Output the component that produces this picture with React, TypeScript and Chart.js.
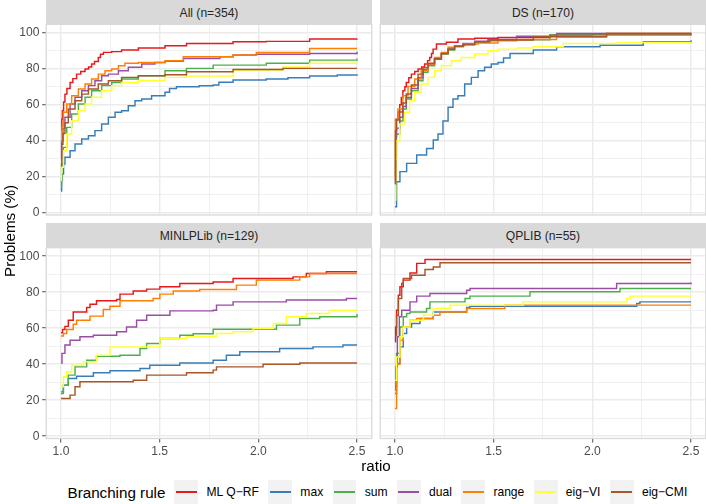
import React, { useEffect, useRef } from "react";
import { Chart, registerables } from "chart.js";

Chart.register(...registerables);

type Pt = [number, number];

const FONT = "'Liberation Sans', Arial, Helvetica, sans-serif";

const RULES = ["ML Q−RF", "max", "sum", "dual", "range", "eig−VI", "eig−CMI"];
const COLORS = ["#E41A1C", "#377EB8", "#4DAF4A", "#984EA3", "#FF7F00", "#FFFF33", "#A65628"];
const PANEL_TITLES = ["All (n=354)", "DS (n=170)", "MINLPLib (n=129)", "QPLIB (n=55)"];
const X_TICKS = [1.0, 1.5, 2.0, 2.5];
const X_MINOR = [1.25, 1.75, 2.25];
const Y_TICKS = [0, 20, 40, 60, 80, 100];
const Y_MINOR = [10, 30, 50, 70, 90];
const X_TITLE = "ratio";
const Y_TITLE = "Problems (%)";
const LEGEND_TITLE = "Branching rule";

// ---- All (n=354)
const ALL_MLQRF: Pt[] = [[1.0,46],[1.004,52],[1.007,56.7],[1.013,61.5],[1.02,65.9],[1.03,69],[1.046,72.4],[1.06,74.5],[1.079,77],[1.1,78.5],[1.122,79.8],[1.14,81],[1.155,82.6],[1.17,84],[1.189,86.3],[1.2,88],[1.215,89.1],[1.257,89.5],[1.307,90.4],[1.392,91.5],[1.527,92.8],[1.636,94],[1.872,95],[2.04,95.2],[2.26,96.5],[2.5,96.7]];
const ALL_MAX: Pt[] = [[1.0,12],[1.003,18],[1.007,21.5],[1.013,27],[1.02,30.8],[1.046,34.4],[1.071,38.2],[1.105,40.9],[1.139,42.8],[1.172,45.6],[1.206,49.3],[1.24,53],[1.274,55.8],[1.307,56.7],[1.341,59.4],[1.375,62.2],[1.409,63.2],[1.459,65],[1.527,66.9],[1.55,69],[1.585,70],[1.7,70.5],[1.771,71],[1.8,72.5],[1.872,73.7],[2.04,74.3],[2.15,75],[2.26,76],[2.4,76.5],[2.5,77]];
const ALL_SUM: Pt[] = [[1.0,15],[1.003,27],[1.012,36.3],[1.029,47.4],[1.054,54.8],[1.088,60.4],[1.122,64.1],[1.155,67.8],[1.206,70.6],[1.257,72.4],[1.307,74.3],[1.392,76.1],[1.527,78.9],[1.636,80.2],[1.771,82],[2.04,83],[2.26,84.8],[2.5,85.7]];
const ALL_DUAL: Pt[] = [[1.0,30],[1.003,40],[1.01,47],[1.02,53],[1.046,60.4],[1.071,64.1],[1.105,67.8],[1.139,70.6],[1.172,73.3],[1.206,76.1],[1.24,77],[1.291,78.9],[1.341,80.8],[1.409,82.6],[1.476,83.5],[1.527,84.1],[1.62,85.7],[1.805,86.7],[1.872,87.6],[1.99,88],[2.26,88.5],[2.5,89.4]];
const ALL_RANGE: Pt[] = [[1.0,40],[1.005,48],[1.012,55.8],[1.029,60.4],[1.054,65],[1.088,68.7],[1.122,71.5],[1.155,74.3],[1.189,77],[1.223,78.9],[1.257,79.8],[1.291,81.7],[1.324,83],[1.392,83.5],[1.527,84.4],[1.62,86.7],[1.872,87.6],[1.99,89],[2.26,91.3],[2.5,91.3]];
const ALL_EIGVI: Pt[] = [[1.0,18],[1.003,25.2],[1.012,34.4],[1.029,43.7],[1.054,51.1],[1.088,56.7],[1.122,60.4],[1.155,64.1],[1.206,67.8],[1.257,70.6],[1.307,72.4],[1.392,73.3],[1.527,75.2],[1.636,76],[1.872,79.3],[2.125,81],[2.26,83],[2.5,83.3]];
const ALL_EIGCMI: Pt[] = [[1.0,26],[1.004,38],[1.01,44],[1.02,50],[1.037,57.6],[1.071,62.2],[1.105,65.9],[1.139,68.7],[1.189,71.5],[1.24,73.3],[1.307,75.2],[1.392,76.1],[1.527,76.7],[1.636,78.3],[1.872,79.6],[2.125,80.2],[2.5,80.2]];

// ---- DS (n=170)
const DS_MLQRF: Pt[] = [[1.0,16],[1.003,45],[1.007,52],[1.015,56],[1.024,60],[1.032,64],[1.04,67.8],[1.05,70],[1.057,72.4],[1.07,75],[1.083,77],[1.1,78.5],[1.117,79.8],[1.135,81],[1.15,82.6],[1.165,84.5],[1.176,86.3],[1.185,88.5],[1.193,90.9],[1.21,93.7],[1.26,94.7],[1.319,96.5],[1.404,97],[1.522,97.4],[1.785,98.7],[2.0,99.2],[2.5,99.6]];
const DS_MAX: Pt[] = [[1.0,3.3],[1.008,17.2],[1.025,22.8],[1.059,27.4],[1.11,32],[1.16,35.7],[1.194,40.4],[1.218,43.7],[1.243,51],[1.269,58.6],[1.294,63.2],[1.319,65],[1.353,71.5],[1.387,75.2],[1.421,78.9],[1.454,80.8],[1.488,82.6],[1.522,83.5],[1.55,86],[1.583,88.5],[1.701,90.4],[1.819,92.2],[2.039,93.1],[2.258,95],[2.5,95.9]];
const DS_SUM: Pt[] = [[1.0,16],[1.003,40],[1.007,43.7],[1.024,51],[1.04,57.6],[1.057,63.2],[1.083,67.8],[1.117,73.3],[1.142,78],[1.167,81.7],[1.201,85.4],[1.235,88.2],[1.269,90.4],[1.302,92.2],[1.345,93.3],[1.404,94.7],[1.471,95.6],[1.522,96.1],[1.785,98.7],[2.5,99.6]];
const DS_DUAL: Pt[] = [[1.0,18],[1.003,42],[1.008,47],[1.024,53],[1.04,59],[1.057,64],[1.083,69],[1.117,75],[1.142,79.5],[1.167,82.5],[1.2,85.4],[1.235,88.5],[1.269,91],[1.302,92.8],[1.345,94],[1.404,95.3],[1.471,96.3],[1.616,98.1],[1.819,99.6],[2.5,100]];
const DS_RANGE: Pt[] = [[1.0,20],[1.002,52],[1.015,57.6],[1.04,65],[1.066,70.2],[1.1,74.3],[1.133,78.9],[1.167,82.6],[1.201,86.3],[1.235,89.1],[1.269,91.9],[1.302,92.8],[1.353,93.7],[1.421,94.3],[1.522,95.6],[1.616,96.3],[1.819,97.8],[2.072,99.6],[2.5,100]];
const DS_EIGVI: Pt[] = [[1.0,7],[1.004,30],[1.01,40],[1.024,49.3],[1.049,55.8],[1.074,62.2],[1.1,66.9],[1.133,71.5],[1.167,75.2],[1.201,78.9],[1.235,81.7],[1.286,84.4],[1.336,86.3],[1.404,88.2],[1.471,90],[1.522,90.9],[1.62,91.5],[1.701,92.2],[1.853,94],[2.123,94.6],[2.5,94.6]];
const DS_EIGCMI: Pt[] = [[1.0,16],[1.003,46],[1.008,51.5],[1.024,56],[1.04,61],[1.057,66],[1.083,71],[1.117,77],[1.142,80.5],[1.167,83],[1.2,85.5],[1.235,88.5],[1.269,90.8],[1.302,92.5],[1.345,93.5],[1.404,95],[1.481,96],[1.701,97.8],[2.072,99.6],[2.5,99.6]];

// ---- MINLPLib (n=129)
const MIN_MLQRF: Pt[] = [[1.0,57.4],[1.008,59.3],[1.02,61],[1.037,64.4],[1.062,69],[1.13,71.5],[1.147,73.3],[1.18,75.2],[1.282,75.9],[1.299,78.9],[1.366,80.6],[1.434,81.7],[1.501,83],[1.602,84.8],[1.771,85.7],[1.872,87.6],[2.176,88.5],[2.243,90.4],[2.345,91.3],[2.5,91.3]];
const MIN_MAX: Pt[] = [[1.0,24.6],[1.012,28.3],[1.037,32],[1.079,33.3],[1.164,35.2],[1.248,36.3],[1.4,37.6],[1.45,39.4],[1.602,40.7],[1.771,42.2],[1.838,45],[1.906,46.9],[2.108,48.7],[2.277,49.6],[2.429,50.6],[2.5,50.6]];
const MIN_SUM: Pt[] = [[1.0,23.7],[1.012,28.3],[1.037,33.9],[1.071,38.5],[1.13,42.2],[1.18,44.4],[1.299,45],[1.4,48.7],[1.434,51.5],[1.501,54.3],[1.602,56.1],[1.67,56.9],[1.771,59.4],[1.99,59.4],[2.092,61.7],[2.21,65.4],[2.311,66.3],[2.5,67.8]];
const MIN_DUAL: Pt[] = [[1.0,40.7],[1.005,46],[1.02,50.6],[1.046,53.3],[1.096,55.2],[1.164,56.1],[1.282,58],[1.332,60.7],[1.383,64.4],[1.434,67.2],[1.552,69.6],[1.771,70],[1.788,72.8],[1.872,74.6],[2.142,75.6],[2.446,76.5],[2.5,76.5]];
const MIN_RANGE: Pt[] = [[1.0,55.6],[1.012,57],[1.029,59.3],[1.062,62.2],[1.079,64.4],[1.147,66.7],[1.214,70.4],[1.248,72.2],[1.299,75.2],[1.467,76.5],[1.501,78.9],[1.569,80.7],[1.703,81.5],[1.889,83.9],[1.99,86.7],[2.21,88.5],[2.26,90.4],[2.5,90.4]];
const MIN_EIGVI: Pt[] = [[1.0,27.4],[1.012,33],[1.029,35.7],[1.054,39.4],[1.113,41.3],[1.18,45],[1.248,49.6],[1.467,49.6],[1.501,54.3],[1.636,55.2],[1.788,57],[1.872,58],[1.973,59.8],[2.075,62.6],[2.142,66.3],[2.243,68.1],[2.361,70],[2.5,70]];
const MIN_EIGCMI: Pt[] = [[1.0,20.9],[1.046,22.8],[1.071,27.4],[1.096,30.2],[1.366,31.1],[1.434,33.9],[1.636,35.2],[1.771,36.7],[1.788,38.5],[2.024,40],[2.21,40.7],[2.5,40.7]];

// ---- QPLIB (n=55)
const QP_MLQRF: Pt[] = [[1.0,52.4],[1.003,60.7],[1.008,70],[1.017,78.3],[1.025,83],[1.042,86.7],[1.076,90.7],[1.11,96],[1.152,98.1],[2.5,98.1]];
const QP_MAX: Pt[] = [[1.0,23.7],[1.008,40.4],[1.025,49.6],[1.042,57],[1.059,60.7],[1.084,62.6],[1.127,65.4],[1.194,69],[1.363,71.5],[1.38,72.2],[2.225,73.7],[2.241,74.6],[2.5,74.6]];
const QP_SUM: Pt[] = [[1.0,27.4],[1.008,46],[1.025,60.7],[1.042,66.3],[1.059,68.1],[1.076,69],[1.16,70.9],[1.177,74.6],[1.355,76.5],[1.38,77.8],[1.684,80.2],[2.123,80.2],[2.14,82],[2.5,82]];
const QP_DUAL: Pt[] = [[1.0,25.6],[1.005,38.5],[1.012,55.2],[1.022,66.3],[1.034,70],[1.076,74.6],[1.11,77.8],[1.177,79.3],[1.363,81.1],[1.38,82],[1.87,82],[2.123,84.8],[2.5,85.4]];
const QP_RANGE: Pt[] = [[1.0,15.4],[1.008,40],[1.025,53.3],[1.042,60.7],[1.076,64.4],[1.11,65.4],[1.194,67.2],[1.228,69],[1.363,70.9],[1.557,72.8],[2.5,72.8]];
const QP_EIGVI: Pt[] = [[1.0,31],[1.008,44],[1.025,55.2],[1.042,60.7],[1.076,64.4],[1.144,67.2],[1.194,70.9],[1.279,72.8],[1.65,74.6],[2.174,76.5],[2.191,77.8],[2.5,77.8]];
const QP_EIGCMI: Pt[] = [[1.0,56],[1.008,67],[1.017,76.5],[1.034,84.8],[1.042,87.6],[1.084,89.4],[1.152,92.6],[1.194,94],[1.228,96.3],[2.5,96.3]];

const PANEL_SERIES: Pt[][][] = [
  [ALL_MLQRF, ALL_MAX, ALL_SUM, ALL_DUAL, ALL_RANGE, ALL_EIGVI, ALL_EIGCMI],
  [DS_MLQRF, DS_MAX, DS_SUM, DS_DUAL, DS_RANGE, DS_EIGVI, DS_EIGCMI],
  [MIN_MLQRF, MIN_MAX, MIN_SUM, MIN_DUAL, MIN_RANGE, MIN_EIGVI, MIN_EIGCMI],
  [QP_MLQRF, QP_MAX, QP_SUM, QP_DUAL, QP_RANGE, QP_EIGVI, QP_EIGCMI],
];

// ---- layout (pixels)
const X_MIN = 0.925, X_MAX = 2.575, Y_MIN = -1.3, Y_MAX = 104.7;
const Y_AXIS_W = 46.2;
const X_AXIS_H = 22;
type Box = { left: number; top: number; width: number; height: number };
type Area = { left: number; top: number; right: number; bottom: number };
const LAYOUT: { box: Box; area: Area; showX: boolean; showY: boolean }[] = [
  { box: { left: 0, top: 23, width: 374, height: 200 }, area: { left: 46.2, top: 24.3, right: 371.8, bottom: 215 }, showX: false, showY: true },
  { box: { left: 378, top: 23, width: 328, height: 200 }, area: { left: 380.2, top: 24.3, right: 705.8, bottom: 215 }, showX: false, showY: false },
  { box: { left: 0, top: 246, width: 374, height: 218 }, area: { left: 46.2, top: 247.7, right: 371.8, bottom: 438.5 }, showX: true, showY: true },
  { box: { left: 378, top: 246, width: 328, height: 218 }, area: { left: 380.2, top: 247.7, right: 705.8, bottom: 438.5 }, showX: true, showY: false },
];

const GRID = "#EBEBEB";
const BORDER = "#D9D9D9";
const TICK = "#333333";
const TICK_TEXT = "#4D4D4D";

const panelBorder = {
  id: "panelBorder",
  afterDatasetsDraw(chart: any) {
    const { ctx, chartArea } = chart;
    const { left, top, right, bottom } = chartArea;
    ctx.save();
    ctx.strokeStyle = BORDER;
    ctx.lineWidth = 1.3;
    ctx.strokeRect(left, top, right - left, bottom - top);
    ctx.restore();
  },
};

function Panel({ idx }: { idx: number }) {
  const ref = useRef<HTMLCanvasElement>(null);
  const { box, area, showX, showY } = LAYOUT[idx];
  useEffect(() => {
    if (!ref.current) return;
    const series = PANEL_SERIES[idx];
    const datasets = series.map((pts, i) => ({
      label: RULES[i],
      data: pts.map(([x, y]) => ({ x, y })),
      borderColor: COLORS[i],
      backgroundColor: COLORS[i],
      borderWidth: 1.45,
      pointRadius: 0,
      stepped: true,
      fill: false,
      order: RULES.length - i,
    }));
    const yW = showY ? Y_AXIS_W : 0;
    const xH = showX ? X_AXIS_H : 0;
    const padding = {
      left: area.left - box.left - yW,
      top: area.top - box.top,
      right: box.left + box.width - area.right,
      bottom: box.top + box.height - area.bottom - xH,
    };
    const xAll = [...X_TICKS, ...X_MINOR].sort((a, b) => a - b);
    const yAll = [...Y_TICKS, ...Y_MINOR].sort((a, b) => a - b);
    const isMajX = (v: any) => X_TICKS.includes(v);
    const isMajY = (v: any) => Y_TICKS.includes(v);
    const chart = new Chart(ref.current, {
      type: "line",
      data: { datasets: datasets as any },
      plugins: [panelBorder],
      options: {
        animation: false,
        responsive: true,
        maintainAspectRatio: false,
        layout: { padding },
        events: [],
        plugins: { legend: { display: false }, tooltip: { enabled: false }, title: { display: false } },
        scales: {
          x: {
            type: "linear",
            min: X_MIN,
            max: X_MAX,
            afterBuildTicks: (s: any) => {
              s.ticks = xAll.map((v) => ({ value: v }));
            },
            afterFit: (s: any) => {
              s.height = xH;
              s.paddingLeft = 0;
              s.paddingRight = 0;
            },
            ticks: {
              display: showX,
              autoSkip: false,
              maxRotation: 0,
              minRotation: 0,
              padding: 1.5,
              color: TICK_TEXT,
              font: { family: FONT, size: 12.1 },
              callback: (v: any) => (isMajX(v) ? Number(v).toFixed(1) : ""),
            },
            grid: {
              color: GRID,
              lineWidth: (c: any) => (c.tick && isMajX(c.tick.value) ? 1.45 : 0.75),
              drawTicks: showX,
              tickLength: 4,
              tickColor: (c: any) => (c.tick && isMajX(c.tick.value) ? TICK : "rgba(0,0,0,0)"),
              tickWidth: 0.9,
            },
            border: { display: false },
          },
          y: {
            type: "linear",
            min: Y_MIN,
            max: Y_MAX,
            afterBuildTicks: (s: any) => {
              s.ticks = yAll.map((v) => ({ value: v }));
            },
            afterFit: (s: any) => {
              s.width = yW;
              s.paddingTop = 0;
              s.paddingBottom = 0;
            },
            ticks: {
              display: showY,
              autoSkip: false,
              padding: 2.8,
              color: TICK_TEXT,
              font: { family: FONT, size: 12.1 },
              callback: (v: any) => (isMajY(v) ? String(v) : ""),
            },
            grid: {
              color: GRID,
              lineWidth: (c: any) => (c.tick && isMajY(c.tick.value) ? 1.45 : 0.75),
              drawTicks: showY,
              tickLength: 4,
              tickColor: (c: any) => (c.tick && isMajY(c.tick.value) ? TICK : "rgba(0,0,0,0)"),
              tickWidth: 0.9,
            },
            border: { display: false },
          },
        },
      } as any,
    });
    return () => chart.destroy();
  }, [idx]);
  return (
    <div style={{ position: "absolute", left: box.left, top: box.top, width: box.width, height: box.height }}>
      <canvas ref={ref} />
    </div>
  );
}

function Strip({ idx }: { idx: number }) {
  const { area } = LAYOUT[idx];
  const top = idx < 2 ? 0 : 223.3;
  const h = area.top - top;
  return (
    <div
      style={{
        position: "absolute",
        left: area.left,
        top,
        width: area.right - area.left,
        height: h,
        background: "#D9D9D9",
        color: "#262626",
        fontSize: 12.1,
        lineHeight: `${h + 2}px`,
        textAlign: "center",
        whiteSpace: "nowrap",
      }}
    >
      {PANEL_TITLES[idx]}
    </div>
  );
}

export default function App() {
  useEffect(() => {
    document.body.style.margin = "0";
    document.body.style.overflow = "hidden";
  }, []);
  return (
    <div
      style={{
        position: "absolute",
        left: 0,
        top: 0,
        width: 706,
        height: 504,
        background: "#FFFFFF",
        fontFamily: FONT,
        overflow: "hidden",
      }}
    >
      {[0, 1, 2, 3].map((i) => (
        <Strip key={"s" + i} idx={i} />
      ))}
      {[0, 1, 2, 3].map((i) => (
        <Panel key={"p" + i} idx={i} />
      ))}
      <div
        style={{
          position: "absolute",
          left: 9.5 - 100,
          top: 231.4 - 9,
          width: 200,
          height: 18,
          lineHeight: "18px",
          textAlign: "center",
          fontSize: 15.2,
          color: "#000",
          transform: "rotate(-90deg)",
          whiteSpace: "nowrap",
        }}
      >
        {Y_TITLE}
      </div>
      <div
        style={{
          position: "absolute",
          left: 276,
          top: 466 - 9,
          width: 200,
          height: 18,
          lineHeight: "18px",
          textAlign: "center",
          fontSize: 15.2,
          color: "#000",
        }}
      >
        {X_TITLE}
      </div>
      <div
        style={{
          position: "absolute",
          left: 67.5,
          top: 480,
          height: 24,
          display: "flex",
          alignItems: "center",
          whiteSpace: "nowrap",
        }}
      >
        <span style={{ fontSize: 15.2, color: "#000", marginRight: 9 }}>{LEGEND_TITLE}</span>
        {RULES.map((r, i) => (
          <React.Fragment key={r}>
            <div style={{ position: "relative", width: 23.8, height: 23.8, background: "#F2F2F2", flex: "none" }}>
              <div
                style={{
                  position: "absolute",
                  left: 1.5,
                  right: 1.5,
                  top: 11.2,
                  height: 1.45,
                  background: COLORS[i],
                }}
              />
            </div>
            <span style={{ fontSize: 12.1, color: "#000", marginLeft: 8.3, marginRight: 9.4 }}>{r}</span>
          </React.Fragment>
        ))}
      </div>
    </div>
  );
}
